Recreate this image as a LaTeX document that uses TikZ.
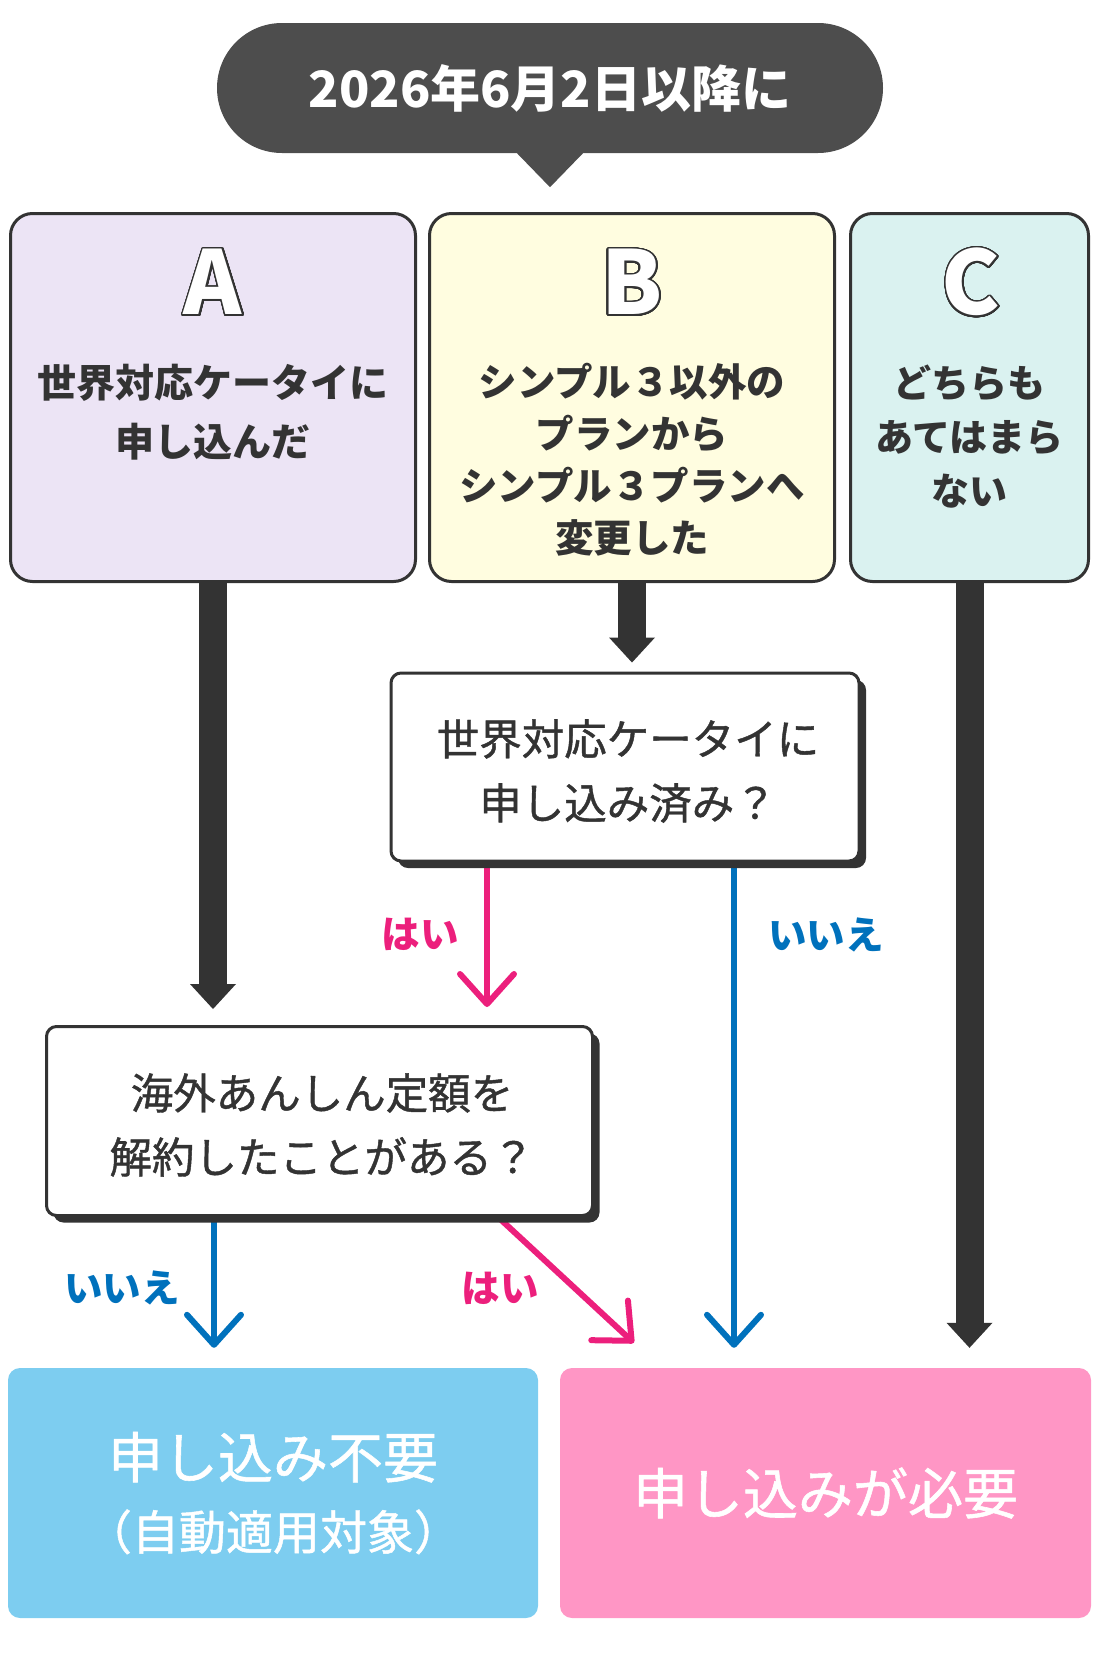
\documentclass[tikz,border=0pt]{standalone}
\usepackage{fontspec}
\setmainfont{Noto Sans CJK JP}
\newfontfamily\jpmed{Noto Sans CJK JP}[FakeBold=1.0]
\usepackage{contour}
\contourlength{1.6pt}
\contournumber{40}
\usetikzlibrary{arrows.meta,shapes.misc,calc,shadows}
\pgfdeclarelayer{bg}
\pgfsetlayers{bg,main}
\definecolor{dk}{HTML}{333333}
\definecolor{bub}{HTML}{4D4D4D}
\definecolor{lavA}{HTML}{ECE4F5}
\definecolor{yelB}{HTML}{FFFDE0}
\definecolor{cyaC}{HTML}{DAF2F0}
\definecolor{pk}{HTML}{EC1F7C}
\definecolor{bl}{HTML}{0071BC}
\definecolor{boxbl}{HTML}{7DCDF0}
\definecolor{boxpk}{HTML}{FF96C5}
\tikzset{
  catbox/.style={draw=dk, line width=3pt, rounded corners=22pt, inner sep=0pt, minimum height=368pt},
  qbox/.style={draw=dk, fill=white, line width=3pt, rounded corners=10pt, inner sep=0pt,
    drop shadow={shadow xshift=7pt, shadow yshift=-7pt, fill=dk, opacity=1}},
  endbox/.style={rounded corners=12pt, inner sep=0pt, minimum height=250pt, text=white, align=center},
  bigletter/.style={font=\fontsize{88}{88}\selectfont\bfseries, text=white, inner sep=0pt},
  cattext/.style={align=center, text=dk, inner sep=0pt},
  qtext/.style={align=center, text=dk, inner sep=0pt, font=\jpmed\fontsize{42.5}{64}\selectfont},
  lbl/.style={inner sep=0pt, font=\fontsize{38.5}{38.5}\selectfont\bfseries},
  fat/.style={draw=dk, line width=28pt, -{Triangle[width=46pt,length=25pt,line width=0pt]}},
  thin/.style={line width=6pt, line cap=round, -{Straight Barb[length=30pt,width=54pt,round]}}
}
\begin{document}
\begin{tikzpicture}[x=1pt,y=-1pt]
\useasboundingbox (0,0) rectangle (1100,1660);

% header bubble
\node[rounded rectangle, fill=bub, minimum width=666pt, minimum height=130pt, inner sep=0pt,
  text=white, font=\fontsize{50}{50}\selectfont\bfseries] (hdr) at (550,88) {2026年6月2日以降に};
\fill[bub] ($(hdr.south)+(-34,-1)$) -- ($(hdr.south)+(0,34)$) -- ($(hdr.south)+(34,-1)$) -- cycle;

% category boxes
\node[catbox, fill=lavA, minimum width=405pt] (A) at (213,397.5) {};
\node[catbox, fill=yelB, minimum width=405pt] (B) at (632,397.5) {};
\node[catbox, fill=cyaC, minimum width=238pt] (C) at (969.5,397.5) {};

\node[bigletter] (LA) at (213,283) {\contour{dk}{A}};
\node[bigletter] (LB) at (632,283) {\contour{dk}{B}};
\node[bigletter] (LC) at (971,283) {\contour{dk}{C}};

\node[cattext, font=\fontsize{39}{59}\selectfont\bfseries] (TA) at (213,412) {世界対応ケータイに\\申し込んだ};
\node[cattext, font=\fontsize{38.5}{52}\selectfont\bfseries] (TB) at (632,460) {シンプル３以外の\\プランから\\シンプル３プランへ\\変更した};
\node[cattext, font=\fontsize{38}{54}\selectfont\bfseries] (TC) at (969.5,437) {どちらも\\あてはまら\\ない};

% question boxes
\node[qbox, minimum width=468pt, minimum height=188pt] (Q1) at (625,767) {};
\node[qtext] (TQ1) at (628,771) {世界対応ケータイに\\申し込み済み？};
\node[qbox, minimum width=546pt, minimum height=189pt] (Q2) at (319.5,1121) {};
\node[qtext] (TQ2) at (322,1125) {海外あんしん定額を\\解約したことがある？};

% result boxes
\node[endbox, fill=boxbl, minimum width=530pt, font=\jpmed] (NB) at (273,1493)
  {\fontsize{55}{60}\selectfont 申し込み不要\\[26pt]\fontsize{47}{52}\selectfont （自動適用対象）};
\node[endbox, fill=boxpk, minimum width=531pt, font=\jpmed\fontsize{55}{55}\selectfont] (NP) at (825.5,1493) {申し込みが必要};

% labels
\node[lbl, text=pk] (L1) at (420,934) {はい};
\node[lbl, text=bl] (L2) at (826,935) {いいえ};
\node[lbl, text=bl] (L3) at (122,1288) {いいえ};
\node[lbl, text=pk] (L4) at (500,1288) {はい};

\coordinate (x487) at (487,0);
\coordinate (x734) at (734,0);
\coordinate (x214) at (214,0);
\coordinate (x498) at (498,0);

\begin{pgfonlayer}{bg}
\draw[fat, shorten >=16pt] (A.south) -- (A.south |- Q2.north);
\draw[fat, shorten >=9pt] (B.south) -- (B.south |- Q1.north);
\draw[fat, shorten >=20pt] (C.south) -- (C.south |- NP.north);
\draw[thin, draw=pk, shorten >=18pt] (Q1.south -| x487) -- (x487 |- Q2.north);
\draw[thin, draw=bl, shorten >=20pt] (Q1.south -| x734) -- (x734 |- NP.north);
\draw[thin, draw=bl, shorten >=20pt] (Q2.south -| x214) -- (x214 |- NB.north);
\draw[thin, draw=pk] (Q2.south -| x498) -- ($(NP.north west)+(74,-25)$);
\end{pgfonlayer}
\end{tikzpicture}
\end{document}
